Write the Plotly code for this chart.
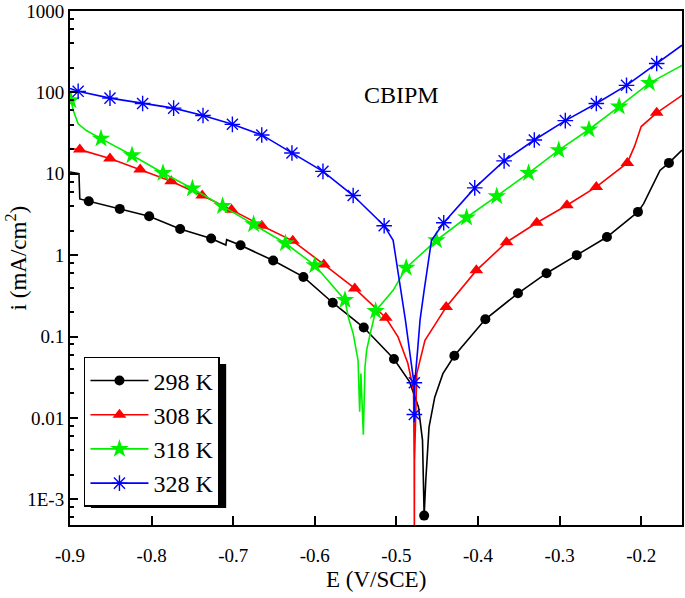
import plotly.graph_objects as go

# ---------------- data (E in V/SCE, i in mA/cm2) ----------------
E_298 = [-0.900, -0.889, -0.888, -0.877, -0.839, -0.803, -0.765, -0.727, -0.709, -0.708,
         -0.691, -0.651, -0.614, -0.578, -0.540, -0.503, -0.484, -0.473, -0.468, -0.467,
         -0.466, -0.464, -0.460, -0.453, -0.443, -0.429, -0.391, -0.351, -0.316, -0.279,
         -0.242, -0.204, -0.197, -0.177, -0.166, -0.150]
I_298 = [10.5, 10.0, 4.9, 4.6, 3.7, 3.0, 2.1, 1.6, 1.33, 1.55,
         1.32, 0.86, 0.54, 0.26, 0.129, 0.053, 0.028, 0.0136, 0.0053, 0.0013,
         6.3e-4, 0.0017, 0.0077, 0.018, 0.035, 0.058, 0.163, 0.34, 0.60, 1.0,
         1.67, 3.4, 4.3, 11.0, 13.6, 19.5]
ME_298 = [-0.877, -0.839, -0.803, -0.765, -0.727, -0.691, -0.651, -0.614, -0.578, -0.540,
          -0.503, -0.466, -0.429, -0.391, -0.351, -0.316, -0.279, -0.242, -0.204, -0.166]
MI_298 = [4.6, 3.7, 3.0, 2.1, 1.6, 1.32, 0.86, 0.54, 0.26, 0.129,
          0.053, 6.3e-4, 0.058, 0.163, 0.34, 0.60, 1.0, 1.67, 3.4, 13.6]

E_308 = [-0.900, -0.888, -0.851, -0.814, -0.776, -0.738, -0.702, -0.665, -0.627, -0.589,
         -0.551, -0.513, -0.498, -0.486, -0.479, -0.4782, -0.478, -0.4778, -0.475, -0.465,
         -0.449, -0.439, -0.402, -0.365, -0.328, -0.291, -0.255, -0.217, -0.208, -0.200,
         -0.181, -0.150]
I_308 = [20.4, 19.8, 15.4, 11.3, 8.1, 5.4, 3.6, 2.3, 1.5, 0.77,
         0.39, 0.17, 0.099, 0.047, 0.022, 0.003, 3e-4, 0.003, 0.035, 0.09,
         0.16, 0.23, 0.65, 1.44, 2.5, 4.1, 6.9, 13.6, 22.0, 38.0,
         56.0, 92.0]
ME_308 = [-0.888, -0.851, -0.814, -0.776, -0.738, -0.702, -0.665, -0.627, -0.589, -0.551,
          -0.513, -0.439, -0.402, -0.365, -0.328, -0.291, -0.255, -0.217, -0.181]
MI_308 = [19.8, 15.4, 11.3, 8.1, 5.4, 3.6, 2.3, 1.5, 0.77, 0.39,
          0.17, 0.23, 0.65, 1.44, 2.5, 4.1, 6.9, 13.6, 56.0]

E_318 = [-0.900, -0.899, -0.896, -0.890, -0.880, -0.862, -0.824, -0.786, -0.750, -0.713,
         -0.675, -0.636, -0.600, -0.563, -0.559, -0.553, -0.547, -0.545, -0.5435, -0.5405,
         -0.5385, -0.5365, -0.532, -0.5255, -0.504, -0.488, -0.451, -0.414, -0.377, -0.338,
         -0.301, -0.264, -0.227, -0.190, -0.150]
I_318 = [90.0, 80.0, 60.0, 41.0, 34.0, 27.0, 16.9, 10.2, 6.6, 4.0,
         2.4, 1.4, 0.75, 0.28, 0.174, 0.109, 0.051, 0.0119, 0.035, 0.0062,
         0.042, 0.068, 0.109, 0.206, 0.37, 0.70, 1.52, 2.9, 5.3, 10.2,
         19.5, 35.0, 67.0, 130.0, 215.0]
ME_318 = [-0.899, -0.862, -0.824, -0.786, -0.750, -0.713, -0.675, -0.636, -0.600, -0.563,
          -0.5255, -0.488, -0.451, -0.414, -0.377, -0.338, -0.301, -0.264, -0.227, -0.190]
MI_318 = [80.0, 27.0, 16.9, 10.2, 6.6, 4.0, 2.4, 1.4, 0.75, 0.28,
          0.206, 0.70, 1.52, 2.9, 5.3, 10.2, 19.5, 35.0, 67.0, 130.0]

E_328 = [-0.900, -0.890, -0.851, -0.811, -0.773, -0.737, -0.701, -0.665, -0.628, -0.590,
         -0.553, -0.515, -0.504, -0.500, -0.494, -0.489, -0.484, -0.4785, -0.478, -0.4775,
         -0.474, -0.471, -0.466, -0.461, -0.457, -0.442, -0.404, -0.368, -0.331, -0.293,
         -0.255, -0.218, -0.181, -0.150]
I_328 = [112.0, 103.0, 85.0, 73.0, 64.0, 52.0, 40.5, 30.0, 18.0, 10.7,
         5.4, 2.3, 1.52, 0.86, 0.37, 0.16, 0.068, 0.027, 0.011, 0.027,
         0.068, 0.16, 0.37, 0.86, 1.52, 2.5, 6.7, 14.4, 26.0, 45.0,
         73.0, 122.0, 226.0, 380.0]
ME_328 = [-0.890, -0.851, -0.811, -0.773, -0.737, -0.701, -0.665, -0.628, -0.590, -0.553,
          -0.515, -0.478, -0.478, -0.442, -0.404, -0.368, -0.331, -0.293, -0.255, -0.218,
          -0.181]
MI_328 = [103.0, 85.0, 73.0, 64.0, 52.0, 40.5, 30.0, 18.0, 10.7, 5.4,
          2.3, 0.027, 0.011, 2.5, 6.7, 14.4, 26.0, 45.0, 73.0, 122.0,
          226.0]

series_names = ["298 K", "308 K", "318 K", "328 K"]
y_tickvals = [1e-3, 1e-2, 1e-1, 1, 10, 100, 1000]
y_ticktext = ["1E-3", "0.01", "0.1", "1", "10", "100", "1000"]
x_tickvals = [-0.9, -0.8, -0.7, -0.6, -0.5, -0.4, -0.3, -0.2]
x_ticktext = ["-0.9", "-0.8", "-0.7", "-0.6", "-0.5", "-0.4", "-0.3", "-0.2"]
y_minor = [m * 10.0 ** d for d in range(-4, 3) for m in (2, 4, 6, 8)]

# ---------------- styles ----------------
styles = [
    dict(color="#000000", symbol="circle", size=10, line=dict(width=0)),
    dict(color="#FF0000", symbol="triangle-up", size=12, line=dict(width=0)),
    dict(color="#00F000", symbol="star", size=14, line=dict(width=0)),
    dict(color="#0000FF", symbol="asterisk-open", size=13, line=dict(width=1.4, color="#0000FF")),
]
data = [(E_298, I_298, ME_298, MI_298), (E_308, I_308, ME_308, MI_308),
        (E_318, I_318, ME_318, MI_318), (E_328, I_328, ME_328, MI_328)]

fig = go.Figure()
for (ex, iy, mx, my), name, st in zip(data, series_names, styles):
    col = st["color"]
    fig.add_trace(go.Scatter(x=ex, y=iy, mode="lines", line=dict(color=col, width=1.6),
                             showlegend=False, hoverinfo="skip"))
    fig.add_trace(go.Scatter(x=mx, y=my, mode="markers", marker=st, showlegend=False))
    fig.add_trace(go.Scatter(x=[None], y=[None], mode="lines+markers", name=name,
                             line=dict(color=col, width=1.6), marker=st))

FONT = "Liberation Serif"
fig.update_layout(
    width=685, height=598,
    margin=dict(l=70, r=1, t=11, b=73),
    paper_bgcolor="white", plot_bgcolor="white",
    font=dict(family=FONT, size=19, color="black"),
    showlegend=True,
    legend=dict(x=0.0228, y=0.327, xanchor="left", yanchor="top",
                bgcolor="white", bordercolor="black", borderwidth=1.5,
                font=dict(family=FONT, size=24), tracegroupgap=0,
                itemwidth=58),
    xaxis=dict(range=[-0.9, -0.15], tickmode="array", tickvals=x_tickvals, ticktext=x_ticktext,
               ticks="inside", ticklen=9, tickwidth=1.5, tickcolor="black",
               showline=True, linewidth=2, linecolor="black", mirror=True,
               showgrid=False, zeroline=False, ticklabelstandoff=12),
    yaxis=dict(type="log", range=[-3.316, 3.0], tickmode="array", tickvals=y_tickvals,
               ticktext=y_ticktext, ticks="inside", ticklen=8, tickwidth=1.5, tickcolor="black",
               showline=True, linewidth=2, linecolor="black", mirror=True,
               showgrid=False, zeroline=False, ticklabelstandoff=0,
               minor=dict(tickmode="array", tickvals=y_minor, ticks="inside", ticklen=4,
                          tickwidth=1.5, tickcolor="black", showgrid=False)),
    shapes=[dict(type="rect", xref="paper", yref="paper",
                 x0=0.0342, x1=0.2552, y0=0.033, y1=0.313,
                 fillcolor="black", line=dict(width=0), layer="above")],
    annotations=[
        dict(text="CBIPM", xref="paper", yref="paper", x=(403 - 70) / 614, y=(525 - 95) / 514.3,
             showarrow=False, font=dict(family=FONT, size=24), xanchor="center", yanchor="middle"),
        dict(text="E (V/SCE)", xref="paper", yref="paper", x=0.5, y=-0.107,
             showarrow=False, font=dict(family=FONT, size=23), xanchor="center", yanchor="middle"),
        dict(text="i (mA/cm<sup>2</sup>)", xref="paper", yref="paper", x=-0.088, y=0.519,
             textangle=-90, showarrow=False, font=dict(family=FONT, size=23),
             xanchor="center", yanchor="middle"),
    ],
)

fig.write_html("out.html", config={"displayModeBar": False},
               post_script="document.body.style.margin='0';document.body.style.overflow='hidden';")
